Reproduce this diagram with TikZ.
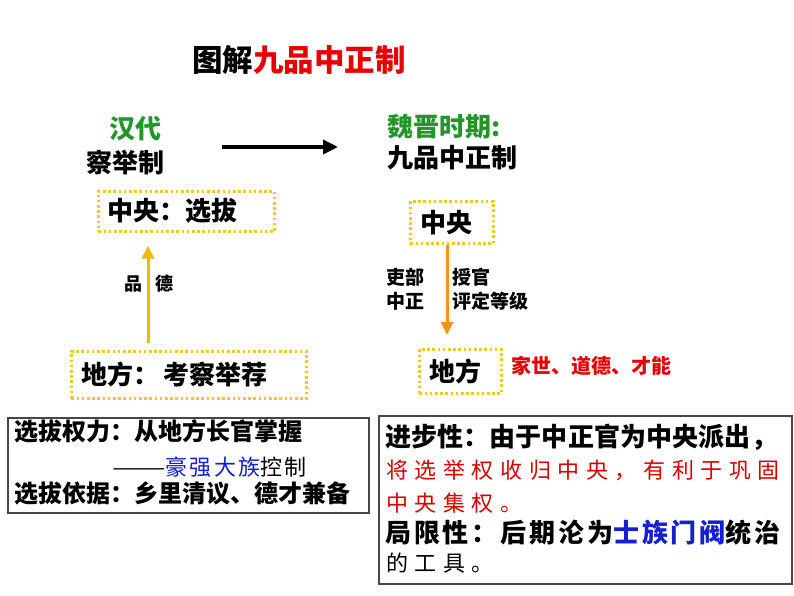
\documentclass[tikz,border=0pt]{standalone}
\usepackage{fontspec}
\usepackage{graphicx}
\setmainfont{Noto Sans CJK SC}
\usetikzlibrary{arrows.meta}
\definecolor{tgreen}{RGB}{34,150,40}
\definecolor{tred}{RGB}{230,0,0}
\definecolor{kred}{RGB}{215,0,0}
\definecolor{tblue}{RGB}{20,30,210}
\definecolor{dotyel}{RGB}{240,200,40}
\definecolor{arrgold}{RGB}{242,185,10}
\definecolor{arrorg}{RGB}{240,150,30}
\definecolor{boxgray}{RGB}{70,70,70}
\newcommand\fsz[1]{\fontsize{#1}{#1}\selectfont}
\tikzset{
  txt/.style={inner sep=0pt, anchor=west},
  dotbox/.style={draw=dotyel, line width=2.6pt, dash pattern=on 2.6pt off 2.6pt, rectangle, anchor=north west, inner ysep=0pt, align=left},
  plainbox/.style={draw=boxgray, line width=1.5pt, rectangle, anchor=north west, inner sep=0pt},
  uparr/.style={line width=3pt, -{Triangle[length=13pt,width=12pt]}},
}
\begin{document}
\begin{tikzpicture}[x=1pt,y=-1pt]
\useasboundingbox (0,0) rectangle (794,596);
% title
\node[txt, font=\bfseries\fsz{30.5}] (title) at (192,60) {图解\textcolor{tred}{九品中正制}};
% periods
\node[txt, text=tgreen, font=\bfseries\fsz{26}] (han) at (109,129) {汉代};
\node[txt, font=\bfseries\fsz{26}] (cha) at (86,162) {察举制};
\node[txt, text=tgreen, font=\bfseries\fsz{26}] (wei) at (387,127) {魏晋时期:};
\node[txt, font=\bfseries\fsz{26}] (jiu) at (387,158) {九品中正制};
\coordinate (ha) at (222,147);
\coordinate (hb) at (338,147);
\draw[line width=3.5pt, -{Triangle[length=15pt,width=14pt]}] (ha) -- (hb);
% left diagram
\node[dotbox, minimum width=176pt, minimum height=40pt, text width=158pt, inner xsep=9pt, font=\bfseries\fsz{26}] (b1) at (97,190) {中央：选拔};
\node[dotbox, minimum width=235pt, minimum height=47pt, text width=215pt, inner xsep=10pt, font=\bfseries\fsz{26}] (b2) at (70,350) {地方：\hspace{4pt}考察举荐};
\coordinate (u) at (148,0);
\draw[uparr, arrgold, shorten <=7pt, shorten >=13pt] (b2.north -| u) -- (b1.south -| u);
\node[txt, font=\bfseries\fsz{18}] (pin) at (124,284) {品};
\node[txt, font=\bfseries\fsz{18}] (de) at (155,284) {德};
% right diagram
\node[dotbox, minimum width=83pt, minimum height=42pt, text width=63pt, inner xsep=10pt, font=\bfseries\fsz{26}] (b3) at (409,200) {中央};
\node[dotbox, minimum width=82pt, minimum height=44pt, text width=62pt, inner xsep=10pt, font=\bfseries\fsz{26}] (b4) at (418,348) {地方};
\coordinate (d) at (447,0);
\draw[uparr, arrorg, shorten >=13pt] (b3.south -| d) -- (b4.north -| d);
\node[txt, font=\bfseries\fsz{19}] (li) at (386,277) {吏部};
\node[txt, font=\bfseries\fsz{19}] (zz) at (386,301) {中正};
\node[txt, font=\bfseries\fsz{19}] (sg) at (452,277) {授官};
\node[txt, font=\bfseries\fsz{19}] (pd) at (452,301) {评定等级};
\node[txt, text=tred, font=\bfseries\fsz{20}] (jia) at (511,366) {家世、道德、才能};
% bottom left box
\node[plainbox, minimum width=361pt, minimum height=95pt] (lb) at (7,417) {};
\node[txt, font=\bfseries\fsz{24}] (l1) at (14,431) {选拔权力：从地方长官掌握};
\node[txt, font={\fsz{22}\addfontfeatures{LetterSpace=10}}] (l2) at (112,467) {\scalebox{1.45}[1]{——}\textcolor{tblue}{豪强大族}控制};
\node[txt, font=\bfseries\fsz{24}] (l3) at (14,493) {选拔依据：乡里清议、德才兼备};
% bottom right box
\node[plainbox, minimum width=413pt, minimum height=168pt] (rb) at (378,415) {};
\node[txt, font={\bfseries\fsz{26}\addfontfeatures{LetterSpace=0.5}}] (r1) at (385,437) {进步性：由于中正官为中央派出，};
\node[txt, text=kred, font={\fsz{22}\addfontfeatures{LetterSpace=30}}] (r2) at (386,470) {将选举权收归中央，有利于巩固};
\node[txt, text=kred, font={\fsz{22}\addfontfeatures{LetterSpace=30}}] (r3) at (386,503) {中央集权。};
\node[txt, font={\bfseries\fsz{26}\addfontfeatures{LetterSpace=11}}] (r4) at (385,533) {局限性：后期沦为\textcolor{tblue}{士族门阀}统治};
\node[txt, font={\fsz{22}\addfontfeatures{LetterSpace=30}}] (r5) at (386,563) {的工具。};
\end{tikzpicture}
\end{document}
